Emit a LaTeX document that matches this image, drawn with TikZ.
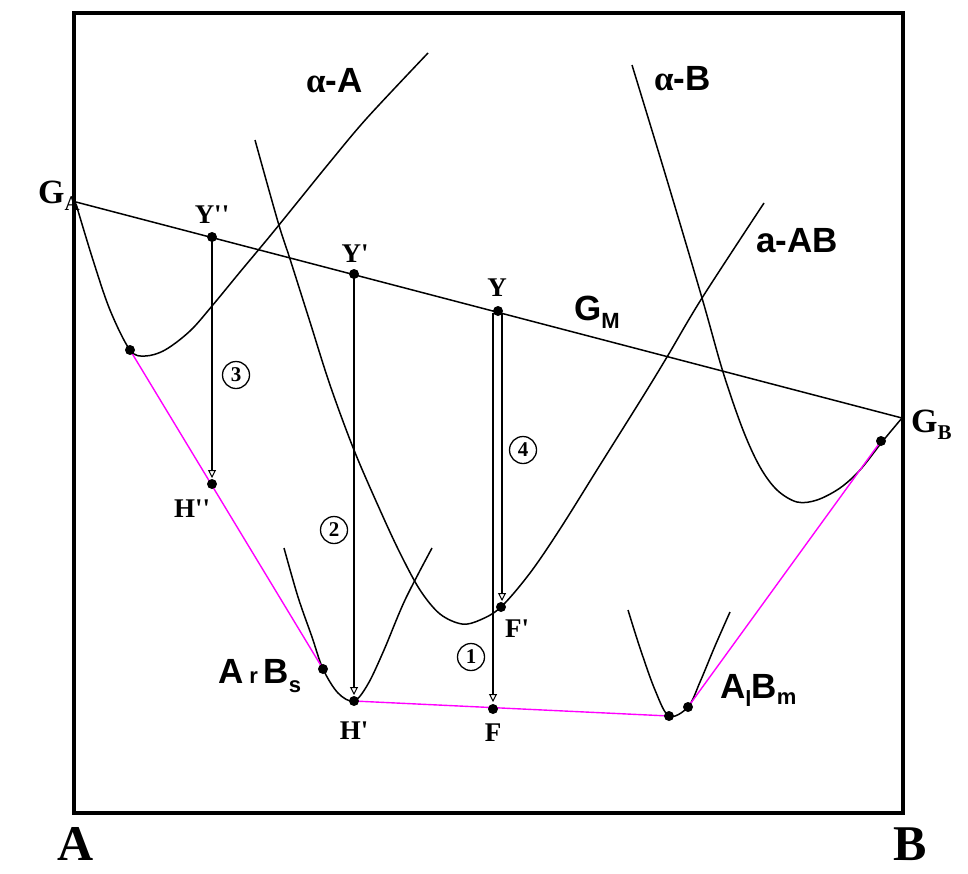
\documentclass[tikz,border=0pt]{standalone}
\usepackage{fontspec}
\setmainfont{Liberation Serif}
\setsansfont{Liberation Sans}
\usetikzlibrary{arrows.meta}
\definecolor{mag}{RGB}{255,0,255}
\begin{document}
\begin{tikzpicture}[x=1pt,y=-1pt,
  thinline/.style={line width=1.5pt, black},
  magline/.style={line width=1.4pt, mag},
  dropline/.style={line width=1.4pt, -{Triangle[open, length=8pt, width=8pt, line width=1pt]}},
  dotmark/.style={circle, fill=black, inner sep=0pt, minimum size=10pt},
  ptlabel/.style={font=\fontsize{27}{27}\selectfont\bfseries, inner sep=0pt},
  glabel/.style={font=\fontsize{34}{34}\selectfont\bfseries, inner sep=0pt},
  phlabel/.style={font=\fontsize{35}{35}\selectfont\sffamily\bfseries, inner sep=0pt},
  axlabel/.style={font=\fontsize{50}{50}\selectfont\bfseries, inner sep=0pt},
  stepnum/.style={circle, draw, line width=1.3pt, inner sep=0pt, minimum size=27pt, font=\fontsize{21}{21}\selectfont\bfseries}
]
\useasboundingbox (0,0) rectangle (968,873);
% frame
\draw[line width=3.5pt] (74,13) rectangle (903,813);

% named points
\coordinate (GA) at (76,202);
\coordinate (GB) at (902,418);
\coordinate (Ypp) at (212,237);
\coordinate (Yp) at (354,274);
\coordinate (Y) at (498,311);
\coordinate (Yl) at (493,313);
\coordinate (Yr) at (502,313);
\coordinate (Hpp) at (212,484);
\coordinate (Hp) at (354,701);
\coordinate (F) at (493,709);
\coordinate (Fp) at (501,607);
\coordinate (Fl) at (493,709);
\coordinate (Fr) at (502,607);
\coordinate (MA) at (130,350);
\coordinate (ArBs) at (323,669);
\coordinate (AlBm1) at (669,716);
\coordinate (AlBm2) at (688,707);
\coordinate (MB) at (881,441);

% G_A -- G_B line
\draw[thinline] (GA) -- (GB);

% alpha-A curve
\draw[thinline] plot[smooth, tension=0.55] coordinates {(76,204) (93,260) (110,310) (130,350) (145,356) (165,350) (190,331) (212,306) (240,272) (270,236) (300,199) (330,162) (367,118) (428,53)};

% a-AB curve
\draw[thinline] plot[smooth, tension=0.55] coordinates {(255,140) (278,222) (290,259) (310,322) (330,385) (354,450) (380,510) (400,553) (420,590) (440,614) (462,624) (480,620) (501,607) (530,573) (560,529) (600,465) (642,398) (667,357) (702,298) (764,203)};

% alpha-B curve
\draw[thinline] plot[smooth, tension=0.55] coordinates {(632,65) (667,180) (702,298) (723,372) (743,430) (760,467) (777,490) (797,502) (817,500) (840,488) (860,470) (882,442) (902,418)};

% small curve near ArBs
\draw[thinline] plot[smooth, tension=0.55] coordinates {(284,548) (298,597) (312,637) (323,669) (338,693) (354,701) (368,684) (384,650) (405,600) (432,548)};

% small curve near AlBm
\draw[thinline] plot[smooth, tension=0.55] coordinates {(628,610) (640,648) (655,690) (669,716) (688,707) (700,682) (715,646) (730,612)};

% magenta tie lines
\draw[magline] (MA) -- (ArBs);
\draw[magline] (Hp) -- (AlBm1);
\draw[magline] (AlBm2) -- (MB);

% drop arrows
\draw[dropline, shorten >=6pt] (Ypp) -- (Hpp);
\draw[dropline, shorten >=6pt] (Yp) -- (Hp);
\draw[dropline, shorten >=7pt] (Yl) -- (Fl);
\draw[dropline, shorten >=6pt] (Yr) -- (Fr);

% dots
\foreach \p in {Ypp,Yp,Y,Hpp,Hp,F,Fp,MA,ArBs,AlBm1,AlBm2,MB}
  \node[dotmark] at (\p) {};

% step numbers
\node[stepnum] (n3) at (236,375) {3};
\node[stepnum] (n2) at (334,530) {2};
\node[stepnum] (n4) at (523,450) {4};
\node[stepnum] (n1) at (471,657) {1};

% point labels
\node[ptlabel, anchor=base] (lYpp) at (212,223) {Y\textquotesingle\textquotesingle};
\node[ptlabel, anchor=base] (lYp) at (355,262) {Y\textquotesingle};
\node[ptlabel, anchor=base] (lY) at (497,296) {Y};
\node[ptlabel, anchor=base] (lHpp) at (192,517) {H\textquotesingle\textquotesingle};
\node[ptlabel, anchor=base] (lHp) at (354,739) {H\textquotesingle};
\node[ptlabel, anchor=base west] (lFp) at (505,637) {F\textquotesingle};
\node[ptlabel, anchor=base] (lF) at (493,741) {F};

\node[glabel, anchor=base west] (lGA) at (38,203) {G\raisebox{-7pt}{\fontsize{21}{21}\selectfont A}};
\node[glabel, anchor=base west] (lGB) at (911,432) {G\raisebox{-7pt}{\fontsize{21}{21}\selectfont B}};

\node[phlabel, anchor=base west] (lGM) at (574,320) {G\raisebox{-8pt}{\fontsize{22}{22}\selectfont M}};
\node[phlabel, anchor=base west] (lalA) at (306,92) {{\rmfamily α}-A};
\node[phlabel, anchor=base west] (lalB) at (654,90) {{\rmfamily α}-B};
\node[phlabel, anchor=base west] (laAB) at (756,252) {a-AB};
\node[phlabel, anchor=base west] (lArBs) at (218,683) {A\,{\fontsize{22}{22}\selectfont r}\,B\raisebox{-9pt}{\fontsize{22}{22}\selectfont s}};
\node[phlabel, anchor=base west] (lAlBm) at (720,698) {A\raisebox{-8pt}{\fontsize{22}{22}\selectfont l}B\raisebox{-6pt}{\fontsize{22}{22}\selectfont m}};

\node[axlabel, anchor=base] (lA) at (76,860) {A};
\node[axlabel, anchor=base] (lB) at (910,860) {B};
\end{tikzpicture}
\end{document}
